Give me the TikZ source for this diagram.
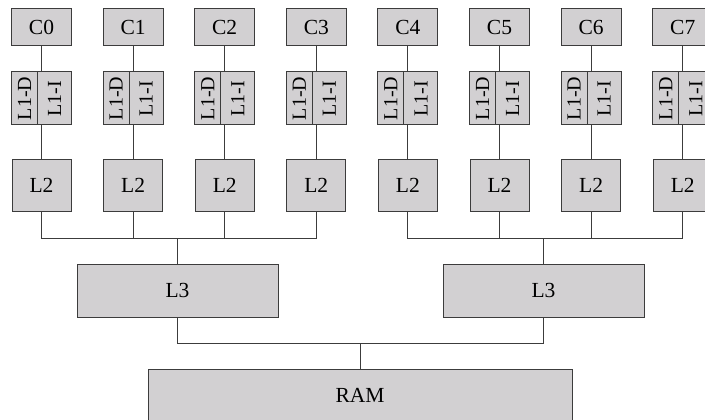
\documentclass[tikz,border=0pt]{standalone}
\usepackage{fontspec}
\setmainfont{Liberation Serif}
\usepackage{xcolor}
\usepackage{tikz}
\usetikzlibrary{positioning}

\definecolor{boxfill}{RGB}{210,208,210}
\definecolor{boxline}{RGB}{60,60,60}

\begin{document}
\begin{tikzpicture}[
  x=1pt, y=-1pt,
  font=\fontsize{21.5}{24}\selectfont,
  box/.style={
    draw=boxline,
    line width=1pt,
    fill=boxfill,
    inner sep=0pt
  },
  corebox/.style={box, minimum width=60pt, minimum height=37pt},
  halfbox/.style={box, minimum height=53pt, font=\fontsize{20}{22}\selectfont},
  l2box/.style={box, minimum width=59pt, minimum height=52pt},
  l3box/.style={box, minimum width=201pt, minimum height=53pt},
  link/.style={draw=boxline, line width=1pt}
]
  \clip (0,0) rectangle (705,420);

  \foreach \i in {0,...,7} {
    \pgfmathsetmacro{\cx}{41.5+91.6*\i}
    \node[corebox] (c\i) at (\cx,27.5) {C\i};
    \node[halfbox, minimum width=26pt] (d\i) at (\cx-17,98.5) {\rotatebox{90}{L1-D}};
    \node[halfbox, minimum width=34pt] (n\i) at (\cx+13,98.5) {\rotatebox{90}{L1-I}};
    \node[l2box] (l\i) at (\cx,185) {L2};

    \draw[link] (c\i.south) -- (c\i.south |- n\i.north);
    \draw[link] (l\i.north |- n\i.south) -- (l\i.north);
  }

  \node[l3box] (l3a) at (177.5,290.5) {L3};
  \node[l3box] (l3b) at (543.5,290.5) {L3};
  \node[box, minimum width=424pt, minimum height=52pt] (ram) at (360,395) {RAM};

  \coordinate (busa) at (l3a.north |- 0,238);
  \coordinate (busb) at (l3b.north |- 0,238);
  \coordinate (busr) at (ram.north |- 0,343);

  \foreach \i in {0,...,3}
    \draw[link] (l\i.south) |- (busa);
  \foreach \i in {4,...,7}
    \draw[link] (l\i.south) |- (busb);
  \draw[link] (busa) -- (l3a.north);
  \draw[link] (busb) -- (l3b.north);

  \draw[link] (l3a.south) |- (busr);
  \draw[link] (l3b.south) |- (busr);
  \draw[link] (busr) -- (ram.north);
\end{tikzpicture}
\end{document}
